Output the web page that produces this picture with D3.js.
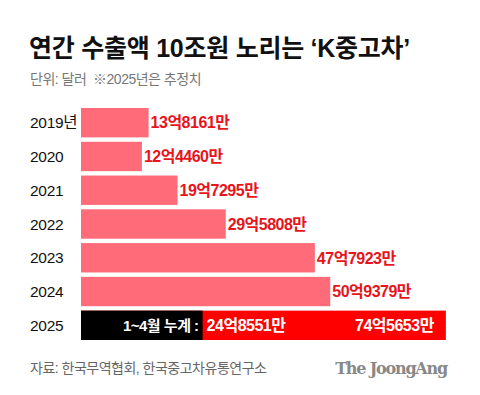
<!DOCTYPE html>
<html>
<head>
<meta charset="utf-8">
<script src="https://cdn.jsdelivr.net/npm/d3@7"></script>
<style>
  body { margin: 0; background: #fff; }
  svg { display: block; font-family: "Liberation Sans", "Noto Sans CJK KR", sans-serif; }
</style>
</head>
<body>
<div id="chart"></div>
<script>
// data (억 달러)
const years = ["2019년", "2020", "2021", "2022", "2023", "2024", "2025"]
const values = [13.8161, 12.4460, 19.7295, 29.5808, 47.7923, 50.9379, 74.5653]
const valueLabels = ["13억8161만", "12억4460만", "19억7295만", "29억5808만", "47억7923만", "50억9379만", "74억5653만"]
const partialValue = 24.8551
const partialLabel = "24억8551만"
const partialPrefix = "1~4월 누계 :"

const width = 480, height = 395

const svg = d3.select("#chart")
    .append("svg")
    .attr("width", width)
    .attr("height", height)

const x = d3.scaleLinear()
    .domain([0, 75])
    .range([81, 448])

const y = d3.scaleBand()
    .domain(years)
    .range([108, 340])
    .paddingInner(0.13)

// title
svg.append("text")
    .attr("x", 29)
    .attr("y", 57)
    .attr("font-size", 25)
    .attr("font-weight", 700)
    .attr("letter-spacing", -0.25)
    .attr("fill", "#111")
    .text("연간 수출액 10조원 노리는 ‘K중고차’")

svg.append("text")
    .attr("x", 30)
    .attr("y", 84)
    .attr("font-size", 14)
    .attr("letter-spacing", -0.5)
    .attr("fill", "#777")
    .style("white-space", "pre")
    .text("단위: 달러  ※2025년은 추정치")

// year labels
svg.append("g")
    .selectAll("text")
    .data(years)
    .join("text")
    .attr("x", 30)
    .attr("y", d => y(d) + y.bandwidth() / 2)
    .attr("dy", "0.36em")
    .attr("font-size", 15.5)
    .attr("letter-spacing", -0.3)
    .attr("fill", "#111")
    .text(d => d)

const rows = years.map((year, i) => ({ year, value: values[i], label: valueLabels[i] }))
const normal = rows.slice(0, 6)
const last = rows[6]

svg.append("g")
    .selectAll("rect")
    .data(normal)
    .join("rect")
    .attr("x", x(0))
    .attr("y", d => y(d.year))
    .attr("width", d => x(d.value) - x(0))
    .attr("height", y.bandwidth())
    .attr("fill", "#ff6b78")

svg.append("g")
    .selectAll("text")
    .data(normal)
    .join("text")
    .attr("x", d => x(d.value) + 2)
    .attr("y", d => y(d.year) + y.bandwidth() / 2)
    .attr("dy", "0.36em")
    .attr("font-size", 16)
    .attr("font-weight", 700)
    .attr("letter-spacing", -0.5)
    .attr("fill", "#e8141b")
    .text(d => d.label)

// 2025 estimate bar
const yl = y(last.year)
svg.append("rect")
    .attr("x", x(0))
    .attr("y", yl)
    .attr("width", x(last.value) - x(0))
    .attr("height", y.bandwidth())
    .attr("fill", "#ff0000")

svg.append("rect")
    .attr("x", x(0))
    .attr("y", yl)
    .attr("width", x(partialValue) - x(0))
    .attr("height", y.bandwidth())
    .attr("fill", "#000")

const midY = yl + y.bandwidth() / 2

svg.append("text")
    .attr("x", x(partialValue) - 4)
    .attr("y", midY)
    .attr("dy", "0.36em")
    .attr("text-anchor", "end")
    .attr("font-size", 15)
    .attr("font-weight", 700)
    .attr("letter-spacing", -0.5)
    .attr("fill", "#fff")
    .text(partialPrefix)

svg.append("text")
    .attr("x", x(partialValue) + 4)
    .attr("y", midY)
    .attr("dy", "0.36em")
    .attr("font-size", 16)
    .attr("font-weight", 700)
    .attr("letter-spacing", -0.5)
    .attr("fill", "#fff")
    .text(partialLabel)

svg.append("text")
    .attr("x", x(last.value) - 12)
    .attr("y", midY)
    .attr("dy", "0.36em")
    .attr("text-anchor", "end")
    .attr("font-size", 16)
    .attr("font-weight", 700)
    .attr("letter-spacing", -0.5)
    .attr("fill", "#fff")
    .text(last.label)

// footer
svg.append("text")
    .attr("x", 30)
    .attr("y", 373)
    .attr("font-size", 14)
    .attr("letter-spacing", -0.5)
    .attr("fill", "#666")
    .text("자료: 한국무역협회, 한국중고차유통연구소")

svg.append("text")
    .attr("x", 447)
    .attr("y", 374)
    .attr("text-anchor", "end")
    .attr("font-family", "'DejaVu Serif', 'Liberation Serif', serif")
    .attr("font-size", 16)
    .attr("font-weight", 700)
    .attr("letter-spacing", -1.2)
    .attr("fill", "#888")
    .text("The JoongAng")
</script>
</body>
</html>
